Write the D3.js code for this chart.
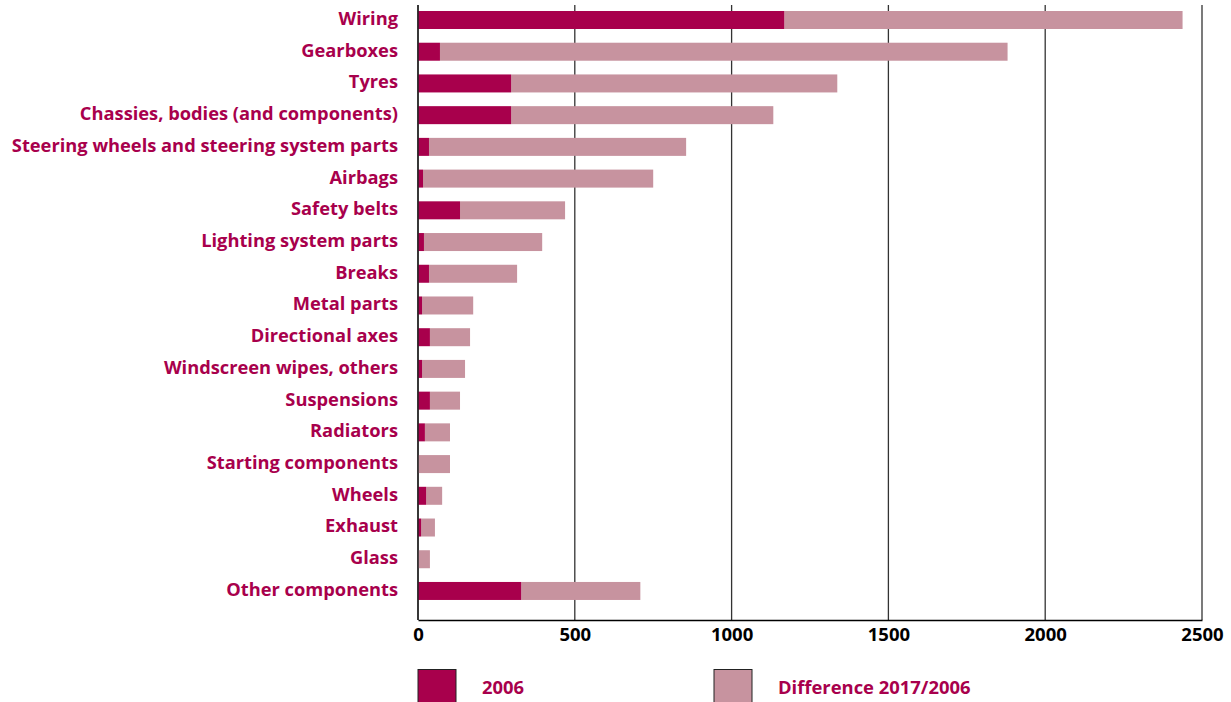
<!DOCTYPE html>
<html>
<head>
<meta charset="utf-8">
<script src="https://cdn.jsdelivr.net/npm/d3@7"></script>
<style>
  html, body { margin: 0; padding: 0; background: #fff; }
  svg { display: block; }
</style>
</head>
<body>
<svg id="chart" width="1231" height="702"></svg>
<script>
const categories = [
  "Wiring", "Gearboxes", "Tyres", "Chassies, bodies (and components)",
  "Steering wheels and steering system parts", "Airbags", "Safety belts",
  "Lighting system parts", "Breaks", "Metal parts", "Directional axes",
  "Windscreen wipes, others", "Suspensions", "Radiators", "Starting components",
  "Wheels", "Exhaust", "Glass", "Other components"
];
const values2006 = [1168, 70, 297, 297, 35, 16, 134, 19, 35, 13, 38, 13, 38, 22, 0, 26, 10, 0, 329];
const valuesDiff = [1270, 1810, 1040, 836, 820, 734, 335, 377, 281, 163, 128, 137, 96, 80, 102, 51, 44, 38, 380];
const seriesNames = ["2006", "Difference 2017/2006"];
const xTicks = [0, 500, 1000, 1500, 2000, 2500];

const colDark = "#A8004C";
const colLight = "#C7939F";
const labelCol = "#A8004C";
const font = "'Open Sans', 'Noto Sans', sans-serif";

const svg = d3.select("#chart");
const x = d3.scaleLinear().domain([0, 2500]).range([418, 1202]);
const y = d3.scaleBand().domain(categories).range([4.14, 606.82])
  .paddingInner(0.4325).paddingOuter(0.21625);

const gridTop = 5, axisY = 620;

// grid lines
svg.append("g").selectAll("line").data(xTicks).join("line")
  .attr("x1", d => x(d)).attr("x2", d => x(d))
  .attr("y1", gridTop).attr("y2", axisY)
  .attr("stroke", "#333").attr("stroke-width", 1.3);

// bars
const rows = categories.map((c, i) => ({c, a: values2006[i], b: valuesDiff[i]}));
svg.append("g").selectAll("rect").data(rows).join("rect")
  .attr("x", d => x(d.a)).attr("y", d => y(d.c))
  .attr("width", d => x(d.a + d.b) - x(d.a)).attr("height", y.bandwidth())
  .attr("fill", colLight);
svg.append("g").selectAll("rect").data(rows.filter(d => d.a > 0)).join("rect")
  .attr("x", x(0)).attr("y", d => y(d.c))
  .attr("width", d => x(d.a) - x(0)).attr("height", y.bandwidth())
  .attr("fill", colDark);

// left axis line
svg.append("line").attr("x1", x(0)).attr("x2", x(0)).attr("y1", gridTop).attr("y2", axisY)
  .attr("stroke", "#222").attr("stroke-width", 1.5);

// bottom axis
const xAxis = d3.axisBottom(x).tickValues(xTicks).tickSize(0).tickPadding(8).tickFormat(d3.format("d"));
const gx = svg.append("g").attr("transform", `translate(0,${axisY})`).call(xAxis);
gx.select(".domain").attr("stroke", "#000").attr("stroke-width", 1.6);
gx.selectAll("text").attr("font-family", font).attr("font-weight", "bold")
  .attr("font-size", 18.5).attr("fill", "#000");

// category labels
const yAxis = d3.axisLeft(y).tickSize(0).tickPadding(20);
const gy = svg.append("g").attr("transform", `translate(${x(0)},0)`).call(yAxis);
gy.select(".domain").remove();
gy.selectAll("text").attr("font-family", font).attr("font-weight", "bold")
  .attr("font-size", 18.3).attr("fill", labelCol).attr("dy", "0.27em");

// legend
const legX = [418, 714];
const leg = svg.append("g").selectAll("g").data(seriesNames).join("g")
  .attr("transform", (d, i) => `translate(${legX[i]},669.5)`);
leg.append("rect").attr("width", 38).attr("height", 40)
  .attr("fill", (d, i) => i === 0 ? colDark : colLight)
  .attr("stroke", "#222").attr("stroke-width", 1);
leg.append("text").attr("x", 64).attr("y", 24)
  .attr("font-family", font).attr("font-weight", "bold").attr("font-size", 18.4)
  .attr("fill", labelCol).text(d => d);
</script>
</body>
</html>
